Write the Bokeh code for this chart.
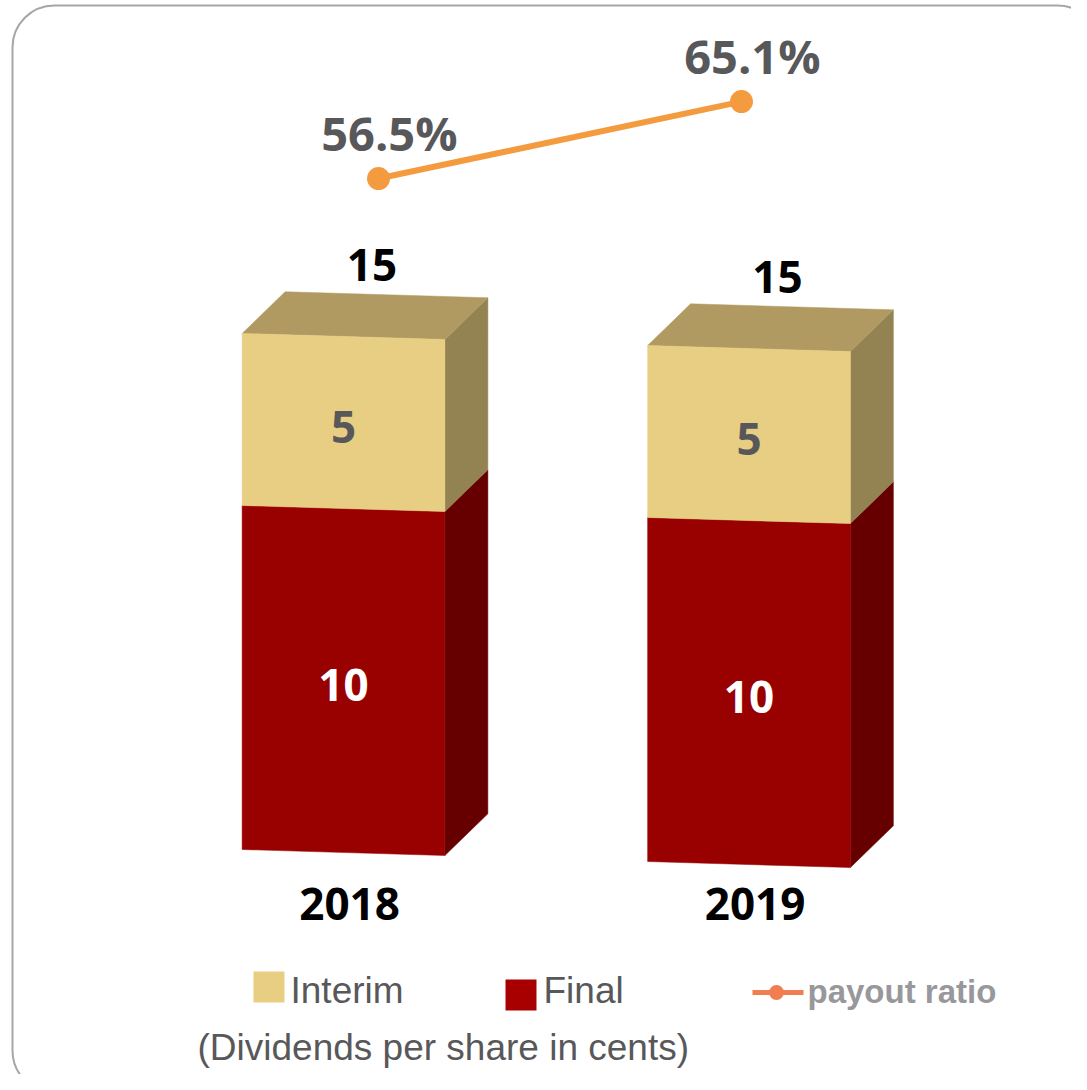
from bokeh.plotting import figure
from bokeh.models import Range1d, BoxAnnotation
from bokeh.embed import file_html
from bokeh.resources import INLINE
from bokeh.core.properties import value

# ---------------- data ----------------
years = ["2018", "2019"]
final = [10, 10]
interim = [5, 5]
payout = [56.5, 65.1]
payout_labels = ["56.5%", "65.1%"]
legend_labels = ["Interim", "Final", "payout ratio"]
caption = "(Dividends per share in cents)"

# ---------------- styling / geometry ----------------
W, H = 1071, 1074
S = 0.35          # perspective skew (value units per category unit)
BW = 0.5          # bar width (category units)
DX, DV = 0.106, 1.25   # depth offset of the 3D extrusion

C_FINAL_F, C_FINAL_S = "#990000", "#660000"
C_INT_F, C_INT_S, C_INT_T = "#E8CE83", "#948352", "#B09A62"
C_LINE = "#F59B3F"
C_GRAY = "#58585B"

p = figure(width=W, height=H, output_backend="svg", toolbar_location=None,
           x_range=Range1d(-0.84587, 1.79531), y_range=Range1d(-6.453, 24.767),
           x_axis_location=None, y_axis_location=None, min_border=0)
p.grid.visible = False
p.outline_line_color = None
p.background_fill_color = "white"
p.border_fill_color = "white"

p.extra_x_ranges = {"line": Range1d(-1.04132, 1.90909), "px": Range1d(0, W)}
p.extra_y_ranges = {"line": Range1d(-43.572, 76.388), "px": Range1d(0, H)}


def sk(x, v):
    return v - S * x


def py(y):
    return H - y


# rounded frame
p.add_layout(BoxAnnotation(left=12, right=1099, top=py(5), bottom=py(1092),
                           x_range_name="px", y_range_name="px",
                           fill_alpha=0, line_color="#A6A6A6", line_alpha=1.0,
                           line_width=2, border_radius=42))

# ---------------- 3D stacked bars ----------------
xs_list, ys_list, cols = [], [], []
for i in range(len(years)):
    xl, xr = i - BW / 2, i + BW / 2
    segs = [(0, final[i], C_FINAL_F, C_FINAL_S),
            (final[i], final[i] + interim[i], C_INT_F, C_INT_S)]
    for lo, hi, cf, cs in segs:
        xs = [xr, xr + DX, xr + DX, xr]
        vs = [lo, lo + DV, hi + DV, hi]
        xs_list.append(xs); ys_list.append([sk(a, b) for a, b in zip(xs, vs)]); cols.append(cs)
    top = final[i] + interim[i]
    xs = [xl, xr, xr + DX, xl + DX]
    vs = [top, top, top + DV, top + DV]
    xs_list.append(xs); ys_list.append([sk(a, b) for a, b in zip(xs, vs)]); cols.append(C_INT_T)
    for lo, hi, cf, cs in segs:
        xs = [xl, xr, xr, xl]
        vs = [lo, lo, hi, hi]
        xs_list.append(xs); ys_list.append([sk(a, b) for a, b in zip(xs, vs)]); cols.append(cf)

p.patches(xs_list, ys_list, fill_color=cols, line_color=cols, line_width=0.5)

# segment labels and totals
for i in range(len(years)):
    yf = final[i] / 2 - 0.126
    yi = final[i] + interim[i] / 2 - 0.126
    p.text(x=[i, i], y=[sk(i, yf), sk(i, yi)], text=[str(final[i]), str(interim[i])],
           text_color=["white", C_GRAY], text_font=value("Open Sans"), text_font_style="bold",
           text_font_size="44px", text_align="center", text_baseline="alphabetic")
    tot = final[i] + interim[i]
    xt = i + 0.07
    p.text(x=[xt], y=[sk(xt, tot + 2.094)], text=[str(tot)], text_color="black",
           text_font=value("Open Sans"), text_font_style="bold", text_font_size="44px",
           text_align="center", text_baseline="alphabetic")

# year labels (category row)
p.text(x=[i + 0.015 for i in range(len(years))], y=[-1.483] * len(years), text=years,
       text_color="black", text_font=value("Open Sans"), text_font_style="bold",
       text_font_size="44px", text_align="center", text_baseline="alphabetic")

# ---------------- payout ratio line ----------------
lx = list(range(len(payout)))
p.line(lx, payout, x_range_name="line", y_range_name="line", line_color=C_LINE, line_width=6)
p.scatter(lx, payout, x_range_name="line", y_range_name="line", size=23,
          fill_color=C_LINE, line_color=None)
p.text(x=[x + 0.03 for x in lx], y=[v + 5.08 for v in payout], text=payout_labels,
       x_range_name="line", y_range_name="line", text_color=C_GRAY,
       text_font=value("Open Sans"), text_font_style="bold", text_font_size="47px",
       text_align="center", text_baseline="alphabetic")

# ---------------- legend ----------------
p.rect(x=[268.5, 520.5], y=[py(986.5), py(994.5)], width=31, height=31,
       width_units="screen", height_units="screen", fill_color=[C_INT_F, "#A80000"],
       line_color=None, x_range_name="px", y_range_name="px")
p.text(x=[290, 543], y=[py(990), py(990)], text=legend_labels[:2], text_color=C_GRAY,
       text_font=value("Liberation Sans"), text_font_size="37px", text_align="left",
       text_baseline="alphabetic", x_range_name="px", y_range_name="px")
p.line([752, 803], [py(992), py(992)], line_color="#F07E50", line_width=5,
       x_range_name="px", y_range_name="px")
p.scatter([776], [py(992)], size=15, fill_color="#F07E50", line_color=None,
          x_range_name="px", y_range_name="px")
p.text(x=[807], y=[py(991)], text=[legend_labels[2]], text_color="#98989C",
       text_font=value("Liberation Sans"), text_font_style="bold", text_font_size="33px",
       text_align="left", text_baseline="alphabetic", x_range_name="px", y_range_name="px")
p.text(x=[197], y=[py(1047)], text=[caption], text_color=C_GRAY,
       text_font=value("Liberation Sans"), text_font_size="37px", text_align="left",
       text_baseline="alphabetic", x_range_name="px", y_range_name="px")

open("out.html", "w").write(file_html(p, INLINE))
